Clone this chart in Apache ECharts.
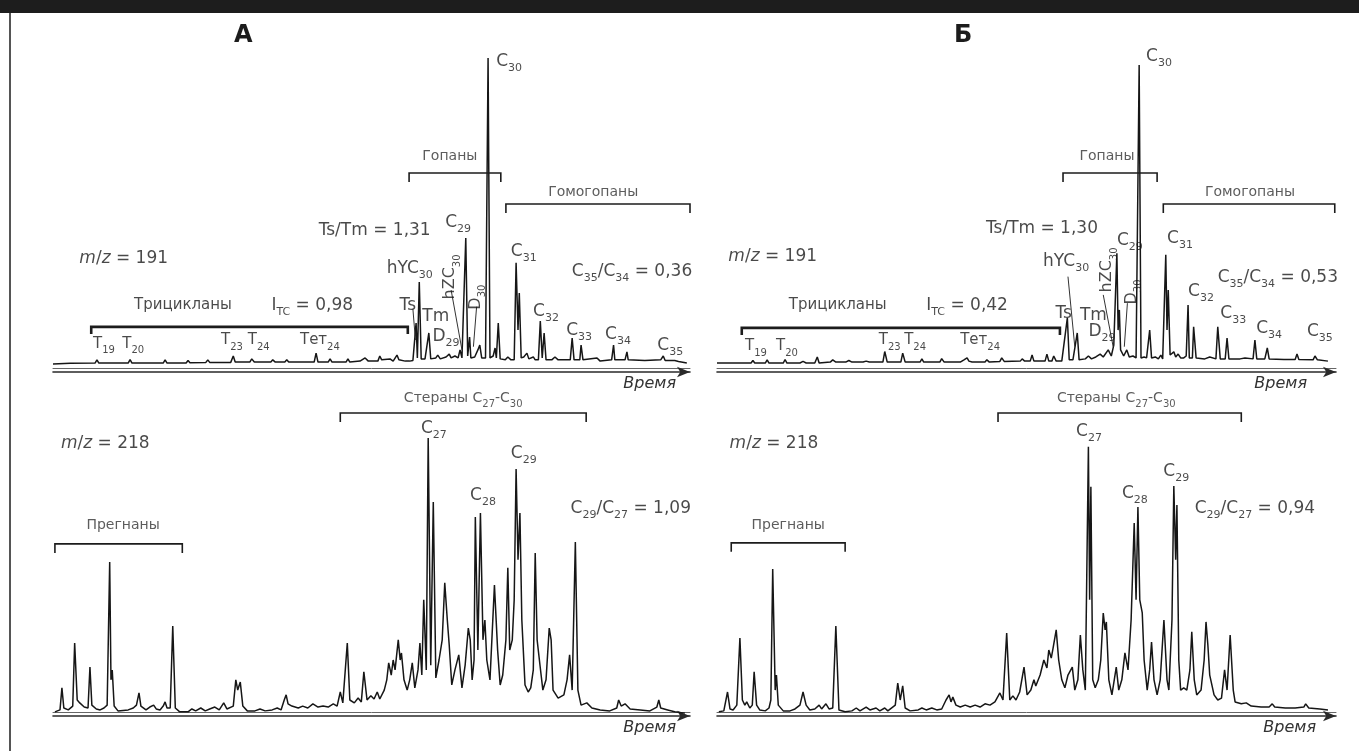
<!DOCTYPE html>
<html><head><meta charset="utf-8">
<script src="https://cdn.jsdelivr.net/npm/echarts@6/dist/echarts.min.js"></script>
<style>html,body{margin:0;padding:0;background:#fff}#c{width:1359px;height:751px}</style>
</head><body><div id="c"></div>
<script>
// ---- chromatogram A, m/z 191: [retention (rel.), intensity (rel.)]
const a191 = [[0,2.5],[2.7,2.7],[6.6,2.8],[6.9,3.8],[7.2,2.8],[11.8,2.8],[12.1,3.9],[12.4,2.8],[17.3,2.8],[17.6,3.8],[17.9,2.8],[20.9,2.8],[21.2,3.6],[21.5,2.9],[24.0,3.0],[24.3,3.8],[24.6,3.0],[27.9,3.0],[28.3,5.0],[28.6,3.1],[30.9,3.1],[31.2,4.1],[31.6,3.1],[34.2,3.1],[34.5,3.8],[34.9,3.1],[36.4,3.1],[36.7,3.8],[37.0,3.1],[41.0,3.1],[41.3,5.9],[41.6,3.1],[43.2,3.1],[43.5,4.1],[43.8,3.1],[46.0,3.1],[46.3,4.1],[46.6,3.1],[48.2,3.4],[49.0,4.4],[49.5,3.4],[51.0,3.4],[51.3,5.0],[51.6,3.8],[52.9,4.1],[53.4,3.4],[54.0,5.3],[54.3,3.8],[55.3,3.4],[56.0,3.4],[56.5,3.6],[57.0,15.3],[57.2,4.4],[57.5,28.1],[57.8,4.1],[58.4,4.1],[59.0,12.2],[59.3,4.1],[60.1,4.4],[60.4,5.3],[60.8,4.1],[61.7,4.7],[62.2,5.6],[62.5,4.4],[63.1,5.0],[63.6,4.4],[63.9,6.9],[64.2,4.4],[64.5,4.7],[64.8,41.9],[65.1,5.0],[65.4,10.9],[65.6,4.4],[66.2,4.7],[66.7,6.9],[67.0,8.4],[67.3,4.4],[67.9,4.4],[68.3,98.1],[68.6,4.4],[69.1,5.0],[69.4,7.5],[69.6,4.4],[69.9,15.3],[70.2,4.1],[71.0,3.8],[71.4,4.7],[71.9,3.8],[72.4,3.8],[72.7,34.1],[73.0,13.1],[73.2,24.7],[73.5,4.4],[73.9,4.7],[74.4,5.9],[74.7,4.1],[75.4,4.7],[75.7,3.8],[76.2,3.8],[76.5,15.9],[76.8,4.4],[77.1,12.2],[77.4,3.8],[78.3,3.8],[78.8,4.7],[79.3,3.8],[81.2,3.8],[81.5,10.6],[81.8,3.8],[82.7,3.8],[82.9,8.4],[83.2,3.8],[85.4,4.4],[85.9,3.4],[87.7,3.8],[88.0,8.4],[88.2,3.8],[89.8,3.8],[90.1,6.3],[90.3,3.8],[92.9,3.6],[95.4,3.8],[95.8,5.0],[96.1,3.6],[97.6,3.6],[97.9,4.1],[98.2,3.3],[99.5,2.8]];
// ---- chromatogram B, m/z 191
const b191 = [[0,2.8],[3.7,2.8],[5.5,2.8],[5.8,3.6],[6.1,2.8],[7.8,2.8],[8.1,3.8],[8.4,2.8],[10.7,2.8],[11.0,3.9],[11.3,2.8],[13.4,2.8],[13.9,3.3],[14.4,2.8],[15.8,2.8],[16.2,4.7],[16.5,2.8],[18.3,3.1],[18.7,3.8],[19.2,3.1],[20.8,3.1],[21.3,3.6],[21.8,3.1],[23.6,3.1],[24.1,3.4],[24.6,3.1],[26.8,3.1],[27.1,6.4],[27.5,3.1],[29.7,3.1],[30.0,5.9],[30.4,3.1],[32.8,3.1],[33.1,4.1],[33.4,3.1],[36.0,3.1],[36.3,4.2],[36.7,3.1],[39.3,3.1],[39.9,3.8],[40.4,4.4],[40.7,3.4],[41.2,3.1],[43.3,3.1],[43.6,3.8],[44.0,3.1],[45.7,3.3],[46.0,4.4],[46.4,3.3],[49.0,3.4],[49.3,4.1],[49.7,3.4],[50.6,3.4],[50.9,5.3],[51.2,3.4],[53.0,3.4],[53.3,5.6],[53.6,3.4],[54.1,3.4],[54.4,5.0],[54.8,3.4],[55.7,3.4],[56.6,16.9],[56.9,3.8],[57.5,3.8],[58.2,12.2],[58.5,3.8],[59.5,4.1],[60.0,5.0],[60.5,4.1],[61.2,4.7],[61.9,5.6],[62.4,4.7],[63.2,6.9],[63.7,5.0],[64.1,8.4],[64.6,37.1],[64.8,13.1],[65.0,19.4],[65.2,6.9],[65.7,5.0],[66.2,6.9],[66.6,4.7],[67.2,5.0],[67.7,4.4],[68.2,95.9],[68.5,4.4],[69.0,4.7],[69.4,4.4],[69.9,13.1],[70.2,4.4],[70.8,4.7],[71.3,4.1],[71.7,5.3],[72.0,4.1],[72.5,36.6],[72.7,13.1],[72.9,25.6],[73.2,5.3],[73.8,6.3],[74.1,4.7],[74.5,5.6],[74.9,4.4],[75.4,4.4],[75.8,5.0],[76.1,20.9],[76.3,4.4],[76.8,4.4],[77.0,14.1],[77.4,4.4],[78.8,4.1],[79.6,4.7],[80.6,4.1],[80.9,14.1],[81.3,4.1],[82.1,4.1],[82.4,10.6],[82.7,4.1],[84.5,4.1],[85.3,4.4],[86.6,4.1],[86.9,10.0],[87.2,4.1],[88.5,4.1],[88.9,7.5],[89.2,4.1],[91.6,3.9],[93.4,3.9],[93.7,5.6],[94.0,3.9],[96.3,3.8],[96.6,5.0],[97.0,3.8],[98.7,3.4]];
// ---- chromatogram A, m/z 218
const a218 = [[0.3,1.3],[1.1,1.9],[1.4,8.8],[1.7,2.5],[2.4,1.9],[3.1,3.1],[3.4,22.8],[3.8,5.0],[4.2,4.1],[4.9,2.8],[5.5,2.5],[5.8,15.3],[6.1,3.4],[6.8,2.2],[7.4,1.9],[8.0,2.5],[8.5,3.4],[8.9,48.1],[9.1,11.3],[9.3,14.4],[9.6,3.1],[10.2,1.6],[11.8,1.9],[12.6,2.5],[13.1,3.4],[13.5,7.2],[13.8,3.1],[14.6,1.9],[15.2,2.8],[15.8,3.4],[16.2,2.2],[16.8,1.9],[17.3,3.1],[17.6,4.4],[17.9,2.5],[18.4,2.5],[18.8,28.1],[19.2,2.5],[19.9,1.3],[21.2,1.3],[21.8,2.2],[22.4,1.6],[23.2,2.5],[23.9,1.6],[24.6,2.2],[25.4,2.8],[26.1,1.9],[26.8,4.1],[27.3,2.2],[28.3,3.1],[28.7,11.3],[29.0,8.1],[29.4,10.6],[29.8,3.1],[30.5,1.6],[31.7,1.6],[32.5,2.2],[33.3,1.6],[34.4,1.9],[35.2,2.5],[35.8,1.9],[36.3,5.0],[36.6,6.6],[36.9,3.8],[37.5,3.1],[38.5,2.5],[39.2,3.1],[40.0,2.5],[40.8,3.8],[41.6,2.8],[42.4,3.1],[43.2,2.8],[44.0,3.8],[44.6,3.1],[45.1,7.5],[45.5,4.1],[46.2,22.8],[46.6,5.0],[47.3,4.1],[47.9,5.6],[48.4,4.4],[48.8,13.8],[49.3,5.0],[49.9,6.3],[50.4,5.3],[50.9,7.5],[51.3,5.3],[52.0,8.1],[52.4,11.3],[52.7,16.6],[53.1,12.8],[53.4,17.5],[53.7,14.4],[54.2,23.8],[54.5,17.5],[54.7,19.7],[55.1,11.3],[55.6,8.1],[56.0,11.3],[56.4,16.6],[56.8,8.8],[57.3,14.4],[57.6,22.8],[57.9,12.8],[58.2,36.3],[58.6,14.4],[58.9,86.9],[59.3,15.9],[59.7,66.9],[60.1,11.9],[60.6,17.5],[61.1,23.8],[61.5,41.6],[61.9,30.0],[62.2,22.2],[62.6,9.7],[63.1,14.4],[63.7,19.1],[64.2,8.8],[64.7,15.9],[65.2,27.5],[65.5,23.8],[65.8,11.3],[66.1,17.5],[66.3,62.2],[66.7,20.6],[67.1,63.4],[67.5,23.8],[67.8,30.0],[68.1,17.5],[68.6,11.3],[69.3,40.9],[69.8,20.6],[70.2,9.7],[70.6,12.8],[71.1,23.8],[71.4,46.3],[71.7,20.6],[72.1,23.8],[72.4,36.3],[72.7,77.2],[73.0,48.8],[73.3,63.4],[73.6,30.0],[74.1,9.7],[74.6,7.5],[75.0,8.8],[75.4,14.4],[75.7,50.9],[76.0,23.8],[76.5,15.0],[76.9,8.1],[77.4,11.3],[77.9,27.5],[78.2,23.8],[78.5,8.1],[79.3,5.6],[80.2,6.6],[80.7,11.3],[81.1,19.1],[81.5,8.1],[82.0,54.4],[82.4,8.1],[82.9,3.4],[83.8,4.1],[84.6,2.5],[85.9,1.9],[87.4,1.6],[88.5,2.5],[88.8,5.0],[89.2,3.1],[89.8,3.8],[90.6,2.2],[92.2,1.9],[93.7,1.6],[94.8,2.8],[95.1,5.0],[95.4,2.5],[96.5,1.9],[97.6,1.3],[99.2,0.9]];
// ---- chromatogram B, m/z 218
const b218 = [[0.3,1.3],[1.1,1.6],[1.7,7.5],[2.1,2.2],[2.6,1.9],[3.2,3.4],[3.7,24.4],[4.1,5.0],[4.5,3.4],[4.8,4.4],[5.3,2.5],[5.7,3.4],[6.0,13.8],[6.4,3.4],[6.9,1.9],[7.8,1.6],[8.4,2.5],[8.7,5.0],[9.0,45.9],[9.4,8.1],[9.6,12.8],[9.9,3.4],[10.7,1.6],[11.8,1.6],[12.6,2.2],[13.4,3.4],[13.9,7.5],[14.4,3.4],[15.0,1.9],[15.8,2.2],[16.5,3.4],[16.9,2.2],[17.6,3.8],[18.1,2.2],[18.7,2.5],[19.2,28.1],[19.7,1.9],[20.7,1.3],[21.8,1.6],[22.5,2.5],[23.1,1.6],[24.1,2.8],[24.7,1.9],[25.7,2.5],[26.3,1.6],[27.1,2.5],[27.6,1.6],[28.8,3.4],[29.2,10.3],[29.6,5.0],[30.0,9.4],[30.4,2.5],[31.2,1.6],[32.5,1.9],[33.1,2.5],[33.8,1.9],[34.7,2.5],[35.5,1.9],[36.3,2.2],[37.0,5.0],[37.5,6.6],[37.8,4.4],[38.1,5.9],[38.6,3.4],[39.3,2.8],[40.1,3.4],[40.9,2.8],[41.7,3.4],[42.5,2.8],[43.3,3.8],[44.1,3.4],[44.9,4.4],[45.7,7.2],[46.2,5.0],[46.8,25.9],[47.3,5.0],[47.8,6.3],[48.3,5.0],[48.9,7.5],[49.6,15.3],[50.1,6.6],[50.7,8.1],[51.2,11.3],[51.5,9.4],[52.2,12.8],[52.8,17.5],[53.3,15.0],[53.6,20.6],[54.0,18.1],[54.3,21.3],[54.8,26.9],[55.2,17.5],[55.7,11.3],[56.2,8.8],[56.7,12.8],[57.4,15.3],[57.8,8.1],[58.3,11.3],[58.7,25.3],[59.1,14.4],[59.5,8.1],[60.0,84.1],[60.2,36.3],[60.4,71.6],[60.7,11.3],[61.1,8.8],[61.6,11.3],[62.0,17.5],[62.4,32.2],[62.7,26.9],[62.9,29.4],[63.3,11.3],[63.8,6.6],[64.5,15.3],[64.9,8.1],[65.4,11.3],[65.9,19.7],[66.4,14.4],[66.9,30.0],[67.4,60.3],[67.7,36.3],[68.0,65.3],[68.3,36.3],[68.7,32.2],[69.0,17.5],[69.5,8.1],[69.9,14.4],[70.2,23.1],[70.6,11.3],[71.1,6.6],[71.6,11.3],[72.2,30.0],[72.7,11.3],[73.0,8.1],[73.5,30.0],[73.8,71.9],[74.1,48.8],[74.3,65.9],[74.6,17.5],[74.9,8.1],[75.4,8.8],[75.9,8.1],[76.4,14.4],[76.7,26.3],[77.1,11.3],[77.5,6.6],[78.2,8.1],[78.7,17.5],[79.0,29.4],[79.3,22.2],[79.6,12.8],[80.3,6.6],[80.9,5.0],[81.5,5.6],[82.0,14.4],[82.4,8.1],[82.9,25.3],[83.4,8.1],[83.7,4.4],[84.7,3.8],[85.5,4.1],[86.3,3.1],[87.9,2.8],[89.2,2.8],[89.7,3.8],[90.1,2.8],[91.8,2.5],[93.4,2.5],[94.8,2.8],[95.1,3.8],[95.6,2.5],[97.4,2.2],[98.7,1.9]];

// ---- peak / ratio labels: [retention, intensity, text]  ([..] = subscript, *..* = italic)
const peaksA191 = [[71.6,96.6,'C[30]'],[50.5,43.8,'Ts/Tm = 1,31'],[63.6,46.3,'C[29]'],[11.1,35.0,'*m*/*z* = 191'],[56.0,31.9,'hYC[30]'],[73.9,37.2,'C[31]'],[90.9,30.9,'C[35]/C[34] = 0,36'],[40.7,20.3,'I[TC] = 0,98'],[55.7,20.3,'Ts'],[60.1,16.9,'Tm'],[61.7,10.6,'D[29]'],[77.4,18.4,'C[32]'],[82.6,12.5,'C[33]'],[88.7,11.3,'C[34]'],[96.9,7.8,'C[35]']];
const tricA191 = [[20.4,20.3,'Трицикланы'],[8.0,8.4,'T[19]'],[12.6,8.4,'T[20]'],[28.1,9.4,'T[23]'],[32.3,9.4,'T[24]'],[41.9,9.4,'Тет[24]']];
const vertA191 = [[62.6,29.7,'hZC[30]'],[66.6,23.4,'D[30]']];
const groupsA191 = [[62.3,66.9,'Гопаны'],[84.8,55.6,'Гомогопаны']];

const peaksB191 = [[71.4,98.1,'C[30]'],[52.5,44.4,'Ts/Tm = 1,30'],[66.7,40.6,'C[29]'],[56.4,34.1,'hYC[30]'],[9.0,35.6,'*m*/*z* = 191'],[74.8,41.3,'C[31]'],[90.6,29.1,'C[35]/C[34] = 0,53'],[78.2,24.7,'C[32]'],[83.4,17.8,'C[33]'],[89.2,13.1,'C[34]'],[97.4,12.2,'C[35]'],[40.4,20.3,'I[TC] = 0,42'],[56.0,17.8,'Ts'],[60.8,17.2,'Tm'],[62.2,12.2,'D[29]']];
const tricB191 = [[19.5,20.3,'Трицикланы'],[6.3,7.5,'T[19]'],[11.3,7.5,'T[20]'],[27.9,9.4,'T[23]'],[32.0,9.4,'T[24]'],[42.5,9.4,'Тет[24]']];
const vertB191 = [[63.3,31.9,'hZC[30]'],[67.2,25.0,'D[30]']];
const groupsB191 = [[63.0,66.9,'Гопаны'],[86.1,55.6,'Гомогопаны']];

const peaksA218 = [[59.8,89.4,'C[27]'],[67.5,68.4,'C[28]'],[73.9,81.6,'C[29]'],[90.7,64.4,'C[29]/C[27] = 1,09'],[8.2,84.7,'*m*/*z* = 218']];
const groupsA218 = [[64.4,98.8,'Стераны C[27]-C[30]'],[11.0,59.1,'Прегнаны']];
const peaksB218 = [[60.1,88.4,'C[27]'],[67.5,69.1,'C[28]'],[74.2,75.9,'C[29]'],[86.9,64.4,'C[29]/C[27] = 0,94'],[9.2,84.7,'*m*/*z* = 218']];
const groupsB218 = [[64.5,98.8,'Стераны C[27]-C[30]'],[11.5,59.1,'Прегнаны']];

// ---- brackets: [start, end, level, tick end]
const bracketsA191 = [[55.9,70.3,62.2,59.4],[71.1,100,52.5,49.7]];
const tricBracketA191 = [[6.0,55.7,14.1,11.9]];
const bracketsB191 = [[55.9,71.1,62.2,59.4],[72.1,99.8,52.5,49.7]];
const tricBracketB191 = [[4.0,55.4,13.8,11.6]];
const bracketsA218 = [[45.1,83.7,94.7,91.9],[0.3,20.3,53.8,50.9]];
const bracketsB218 = [[45.4,84.7,94.7,91.9],[2.3,20.7,54.1,51.3]];
// ---- leader lines: [x1, y1, x2, y2]
const leadersA191 = [[56.5,19.7,56.9,10.0],[62.5,25.6,64.2,6.9],[66.5,20.4,66.0,7.9]];
const leadersB191 = [[56.7,29.8,57.8,7.9],[62.4,24.1,64.0,7.9],[66.3,21.5,65.8,7.9]];

const panelTitles = ['А', 'Б'];
const axisName = 'Время';

const FONT = '"DejaVu Sans", "Liberation Sans", sans-serif';
const INK = '#1c1c1c';
const INK2 = '#333';

function toRich(str) {
  let out = '';
  const re = /\[([^\]]+)\]|\*([^*]+)\*|([^\[\*]+)/g;
  let m;
  while ((m = re.exec(str))) {
    if (m[1]) out += '{s|' + m[1] + '}';
    else if (m[2]) out += '{i|' + m[2] + '}';
    else out += '{b|' + m[3] + '}';
  }
  return out;
}
function richStyles(fs, color) {
  const sub = Math.max(10, Math.round(fs * 0.62));
  const drop = Math.round(fs * 0.6);
  return {
    b: {fontSize: fs, lineHeight: fs + 3, verticalAlign: 'top', fontFamily: FONT, color: color},
    i: {fontSize: fs, lineHeight: fs + 3, verticalAlign: 'top', fontFamily: FONT, fontStyle: 'italic', color: color},
    s: {fontSize: sub, lineHeight: sub, padding: [drop, 0, 0, 0], verticalAlign: 'top', fontFamily: FONT, color: color}
  };
}
function labelSeries(gi, arr, fs, rot, color) {
  return {
    type: 'scatter', xAxisIndex: gi * 2, yAxisIndex: gi, symbolSize: 1, clip: false, silent: true, z: 6,
    itemStyle: {color: 'rgba(0,0,0,0)'},
    data: arr.map(d => ({value: [d[0], d[1]], label: {formatter: toRich(d[2])}})),
    label: {show: true, position: 'inside', rotate: rot || 0, rich: richStyles(fs, color || INK)}
  };
}
function bracketSeries(gi, arr, w) {
  return {
    type: 'lines', coordinateSystem: 'cartesian2d', xAxisIndex: gi * 2, yAxisIndex: gi, polyline: true, silent: true, z: 4,
    lineStyle: {color: '#1c1c1c', width: w, opacity: 1, curveness: 0},
    data: arr.map(b => ({coords: [[b[0], b[3]], [b[0], b[2]], [b[1], b[2]], [b[1], b[3]]]}))
  };
}
function leaderSeries(gi, arr) {
  return {
    type: 'lines', coordinateSystem: 'cartesian2d', xAxisIndex: gi * 2, yAxisIndex: gi, silent: true, z: 4,
    lineStyle: {color: '#333', width: 1, opacity: 1, curveness: 0},
    data: arr.map(l => ({coords: [[l[0], l[1]], [l[2], l[3]]]}))
  };
}
function chromSeries(gi, data) {
  return {type: 'line', xAxisIndex: gi * 2, yAxisIndex: gi, data: data, symbol: 'none', showSymbol: false,
    silent: true, z: 3, lineStyle: {color: '#161616', width: 1.5}};
}

const grids = [
  {left: 53, top: 52, width: 637, height: 320},
  {left: 717, top: 52, width: 619, height: 320},
  {left: 53, top: 396, width: 637, height: 320},
  {left: 717, top: 396, width: 619, height: 320}
];
const nameGaps = [-14, -29, -14, -20];
const xAxes = [];
const yAxes = [];
grids.forEach((g, gi) => {
  xAxes.push({type: 'value', gridIndex: gi, min: 0, max: 100, position: 'bottom',
    axisLine: {show: true, onZero: false, symbol: ['none', 'arrow'], symbolSize: [8, 13],
      lineStyle: {color: '#2a2a2a', width: 1.6}},
    axisTick: {show: false}, axisLabel: {show: false}, splitLine: {show: false},
    name: axisName, nameLocation: 'end', nameGap: nameGaps[gi],
    nameTextStyle: {align: 'right', verticalAlign: 'top', padding: [4, 0, 0, 0], fontSize: 16,
      fontStyle: 'italic', color: '#333', fontFamily: FONT}});
  xAxes.push({type: 'value', gridIndex: gi, min: 0, max: 100, position: 'bottom', offset: -4,
    axisLine: {show: true, onZero: false, lineStyle: {color: '#666', width: 1}},
    axisTick: {show: false}, axisLabel: {show: false}, splitLine: {show: false}});
  yAxes.push({type: 'value', gridIndex: gi, min: 0, max: 100, show: false});
});

const series = [
  chromSeries(0, a191), chromSeries(1, b191), chromSeries(2, a218), chromSeries(3, b218),
  bracketSeries(0, bracketsA191, 1.6), bracketSeries(0, tricBracketA191, 2.6),
  bracketSeries(1, bracketsB191, 1.6), bracketSeries(1, tricBracketB191, 2.6),
  bracketSeries(2, bracketsA218, 1.6), bracketSeries(3, bracketsB218, 1.6),
  leaderSeries(0, leadersA191), leaderSeries(1, leadersB191),
  labelSeries(0, peaksA191, 17), labelSeries(0, tricA191, 15), labelSeries(0, vertA191, 16, 90), labelSeries(0, groupsA191, 14, 0, INK2),
  labelSeries(1, peaksB191, 17), labelSeries(1, tricB191, 15), labelSeries(1, vertB191, 16, 90), labelSeries(1, groupsB191, 14, 0, INK2),
  labelSeries(2, peaksA218, 17), labelSeries(2, groupsA218, 14, 0, INK2),
  labelSeries(3, peaksB218, 17), labelSeries(3, groupsB218, 14, 0, INK2)
];

const chart = echarts.init(document.getElementById('c'), null, {width: 1359, height: 751});
chart.setOption({
  animation: false,
  backgroundColor: '#fff',
  title: [
    {text: panelTitles[0], left: 229, top: 19, textStyle: {fontSize: 24, fontWeight: 'bold', color: '#1c1c1c', fontFamily: '"DejaVu Sans", sans-serif'}},
    {text: panelTitles[1], left: 949, top: 19, textStyle: {fontSize: 24, fontWeight: 'bold', color: '#1c1c1c', fontFamily: '"DejaVu Sans", sans-serif'}}
  ],
  graphic: [
    {type: 'rect', shape: {x: 0, y: 0, width: 1359, height: 13}, style: {fill: '#1d1d1d'}, silent: true},
    {type: 'rect', shape: {x: 9, y: 13, width: 2, height: 738}, style: {fill: '#555'}, silent: true}
  ],
  grid: grids,
  xAxis: xAxes,
  yAxis: yAxes,
  series: series
});
</script></body></html>
